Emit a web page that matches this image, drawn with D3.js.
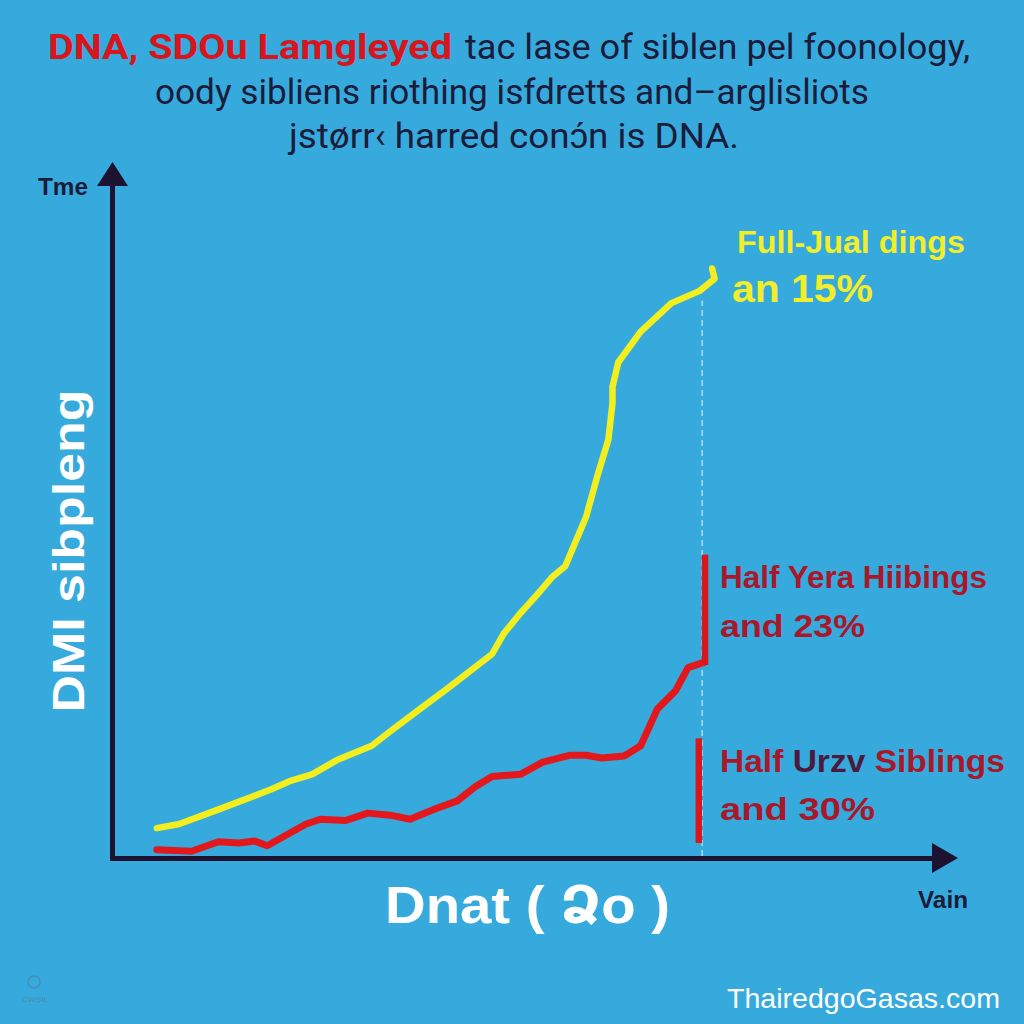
<!DOCTYPE html>
<html><head><meta charset="utf-8">
<script src="https://cdn.jsdelivr.net/npm/d3@7"></script>
<style>html,body{margin:0;padding:0;background:#36aadd;} svg{display:block;}</style>
</head><body><svg id="c" width="1024" height="1024"></svg>
<script>
// ---- data ----
const fullX = [5.4, 8.1, 12.3, 19.2, 21.4, 24.1, 27.1, 31.3, 33.5, 37.4, 40.4, 45.8, 47.2, 49.2, 51.2, 53.1, 54.6, 57.1, 58.6, 59.8, 60.3, 60.3, 61.0, 63.7, 67.4, 70.8, 72.6, 72.3];
const fullY = [4.4, 5.0, 6.9, 10.1, 11.3, 12.3, 14.4, 16.5, 18.6, 22.2, 24.9, 30.0, 33.0, 36.0, 38.7, 41.4, 42.9, 50.1, 56.7, 61.5, 66.9, 69.3, 72.9, 77.4, 81.6, 83.4, 85.2, 86.7];
const halfX = [5.4, 9.6, 12.8, 15.3, 17.2, 18.7, 20.9, 23.4, 25.1, 28.1, 30.8, 33.5, 35.9, 38.9, 41.6, 43.8, 45.8, 49.2, 51.9, 55.1, 57.1, 59.0, 61.7, 63.7, 65.7, 67.9, 69.4, 71.4];
const halfY = [1.2, 1.0, 2.4, 2.2, 2.5, 1.8, 3.3, 5.0, 5.7, 5.5, 6.6, 6.3, 5.7, 7.2, 8.4, 10.5, 12.0, 12.3, 14.1, 15.1, 15.1, 14.7, 15.0, 16.5, 21.9, 24.6, 28.0, 28.8];
const bracketX = [71.45, 70.7];
const bracketLow = [28.4, 2.2];
const bracketHigh = [44.6, 17.6];
const guideX = 71.1;
const guideRange = [0.3, 82];
const titleRed = "DNA, SDOu Lamgleyed";
const titleLines = ["tac lase of siblen pel foonology,", "oody sibliens riothing isfdretts and\u2013arglisliots", "jst\u00f8rr\u2039 harred con\u0254\u0301n is DNA."];
const fullLabel = ["Full-Jual dings", "an 15%"];
const halfLabelA = ["Half Yera Hiibings", "and 23%"];
const halfLabelB = ["Half ", "Urzv", " Siblings", "and 30%"];
const yTop = "Tme", yLabel = "DMI sibpleng", xLabel = "Dnat ( \u0541o )", xEnd = "Vain";
const watermark = "ThairedgoGasas.com";

// ---- drawing ----
const svg = d3.select("#c");
svg.append("rect").attr("width",1024).attr("height",1024).attr("fill","#36aadd");

const x = d3.scaleLinear().domain([0,100]).range([112, 942]);
const y = d3.scaleLinear().domain([0,100]).range([858, 178]);
const axisCol = "#1d1230";

// axes
const gx = svg.append("g").attr("transform","translate(0,858)")
  .call(d3.axisBottom(x).tickValues([]).tickSizeOuter(0));
const gy = svg.append("g").attr("transform","translate(112,0)")
  .call(d3.axisLeft(y).tickValues([]).tickSizeOuter(0));
[gx, gy].forEach(g => g.select(".domain").attr("stroke", axisCol).attr("stroke-width", 5).attr("stroke-linecap","square"));
// arrowheads
const xe = x.range()[1], ye = y.range()[1];
svg.append("path").attr("d", `M${xe-10},843L${xe+16},858L${xe-10},873Z`).attr("fill", axisCol);
svg.append("path").attr("d", `M97,${ye+8}L112.5,${ye-16}L128,${ye+8}Z`).attr("fill", axisCol);

// dashed guide
svg.append("line").attr("x1", x(guideX)).attr("x2", x(guideX))
  .attr("y1", y(guideRange[0])).attr("y2", y(guideRange[1]))
  .attr("stroke","rgba(255,255,255,0.6)").attr("stroke-width",1.5).attr("stroke-dasharray","6,4");

const line = d3.line().x(d=>x(d[0])).y(d=>y(d[1])).curve(d3.curveLinear);
svg.append("path").datum(halfX.map((v,i)=>[v, halfY[i]])).attr("d", line)
  .attr("fill","none").attr("stroke","#e3181c").attr("stroke-width",7)
  .attr("stroke-linejoin","round").attr("stroke-linecap","round");
svg.append("path").datum(fullX.map((v,i)=>[v, fullY[i]])).attr("d", line)
  .attr("fill","none").attr("stroke","#f3ef1f").attr("stroke-width",6.5)
  .attr("stroke-linejoin","round").attr("stroke-linecap","round");

// brackets
svg.selectAll("line.br").data(bracketX).enter().append("line")
  .attr("x1", d=>x(d)).attr("x2", d=>x(d))
  .attr("y1", (d,i)=>y(bracketLow[i])).attr("y2", (d,i)=>y(bracketHigh[i]))
  .attr("stroke","#d8171f").attr("stroke-width",6.5);

function txt(s, px, py, opts) {
  const t = svg.append("text").attr("x", px).attr("y", py)
    .attr("font-family", opts.family || "Liberation Sans, Arial, sans-serif")
    .attr("font-size", opts.size).attr("font-weight", opts.weight || "normal")
    .attr("fill", opts.fill).text(s);
  if (opts.len) t.attr("textLength", opts.len).attr("lengthAdjust","spacingAndGlyphs");
  if (opts.anchor) t.attr("text-anchor", opts.anchor);
  return t;
}
const narrow = "Liberation Sans Narrow, Roboto, Arial, sans-serif";
// title
txt(titleRed, 48, 59, {size:35, weight:"bold", fill:"#d8141c", family:narrow, len:404});
txt(titleLines[0], 465, 59, {size:35, fill:"#1b1b3a", family:narrow, len:505});
txt(titleLines[1], 155, 104, {size:35, fill:"#1b1b3a", family:narrow, len:714});
txt(titleLines[2], 289, 148, {size:35, fill:"#1b1b3a", family:narrow, len:450});

// annotations
txt(fullLabel[0], 737, 253, {size:31, weight:"bold", fill:"#f2ee2a", len:228});
txt(fullLabel[1], 732, 302, {size:39, weight:"bold", fill:"#f2ee2a", len:141});
txt(halfLabelA[0], 720, 588, {size:31, weight:"bold", fill:"#a8182a", len:267});
txt(halfLabelA[1], 720, 637, {size:32, weight:"bold", fill:"#a8182a", len:145});
const tb = svg.append("text").attr("x",720).attr("y",772).attr("font-family","Liberation Sans, Arial, sans-serif")
  .attr("font-size",31).attr("font-weight","bold").attr("fill","#a8182a")
  .attr("textLength",285).attr("lengthAdjust","spacingAndGlyphs");
tb.append("tspan").text(halfLabelB[0]);
tb.append("tspan").attr("fill","#4b1a3c").text(halfLabelB[1]);
tb.append("tspan").text(halfLabelB[2]);
txt(halfLabelB[3], 720, 820, {size:32, weight:"bold", fill:"#a8182a", len:155});

// axis labels
txt(yTop, 38, 195, {size:23, weight:"bold", fill:"#1b1b3a", len:50});
txt(xEnd, 918, 908, {size:23, weight:"bold", fill:"#1b1b3a", len:50});
txt(yLabel, 0, 0, {size:44, weight:"bold", fill:"#ffffff", len:323, anchor:"middle"})
  .attr("transform","translate(84,551) rotate(-90)");
txt(xLabel, 385, 923, {size:52, weight:"bold", fill:"#ffffff", len:285, family:"Liberation Sans, DejaVu Sans, sans-serif"});

// watermark + logo
txt(watermark, 727, 1008, {size:28, fill:"#ffffff", len:273});
svg.append("circle").attr("cx",34).attr("cy",982).attr("r",6).attr("fill","none").attr("stroke","rgba(90,110,130,0.45)").attr("stroke-width",1.5);
txt("CWSIL", 22, 1002, {size:8, fill:"rgba(90,110,130,0.5)", len:26});
</script></body></html>
